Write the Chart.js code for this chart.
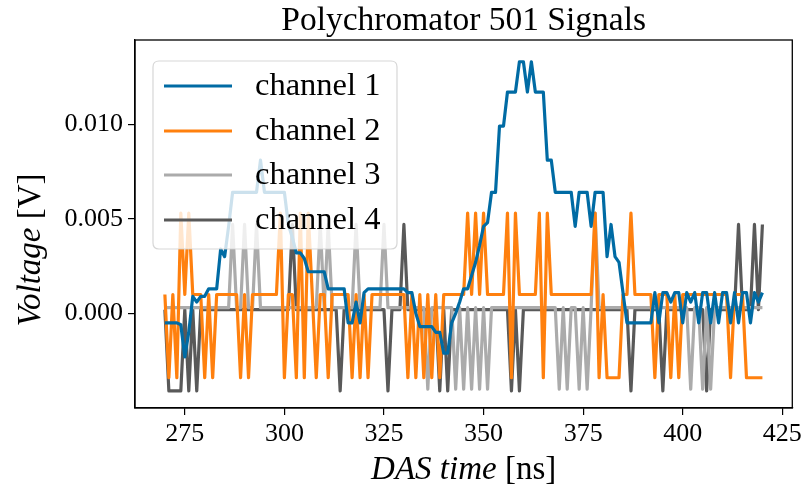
<!DOCTYPE html>
<html>
<head>
<meta charset="utf-8">
<script src="https://cdn.jsdelivr.net/npm/chart.js@4.4.1/dist/chart.umd.min.js"></script>
<style>
html,body{margin:0;padding:0;background:#ffffff;}
#wrap{width:806px;height:497px;position:relative;}
</style>
</head>
<body>
<div id="wrap"><canvas id="c" width="806" height="497"></canvas></div>
<script>
// ---- data ----
const chartTitle = "Polychromator 501 Signals";
const seriesNames = ["channel 1", "channel 2", "channel 3", "channel 4"];
const xTickValues = [275, 300, 325, 350, 375, 400, 425];
const yTickValues = [0.000, 0.005, 0.010];

const timeNs = [
270,271,272,273,274,275,276,277,278,279,280,281,282,283,284,285,286,287,288,289,
290,291,292,293,294,295,296,297,298,299,300,301,302,303,304,305,306,307,308,309,
310,311,312,313,314,315,316,317,318,319,320,321,322,323,324,325,326,327,328,329,
330,331,332,333,334,335,336,337,338,339,340,341,342,343,344,345,346,347,348,349,
350,351,352,353,354,355,356,357,358,359,360,361,362,363,364,365,366,367,368,369,
370,371,372,373,374,375,376,377,378,379,380,381,382,383,384,385,386,387,388,389,
390,391,392,393,394,395,396,397,398,399,400,401,402,403,404,405,406,407,408,409,
410,411,412,413,414,415,416,417,418,419,420];

const channel1 = [
-0.0005,-0.0005,-0.0005,-0.0005,-0.0006,-0.0023,-0.0010,0.0009,0.0006,0.0009,
0.0009,0.0013,0.0013,0.0013,0.0034,0.0030,0.0046,0.0064,0.0064,0.0064,
0.0064,0.0064,0.0064,0.0064,0.0081,0.0064,0.0064,0.0064,0.0064,0.0064,
0.0064,0.0047,0.0040,0.0032,0.0032,0.0029,0.0022,0.0022,0.0022,0.0022,
0.0022,0.0013,0.0013,0.0013,0.0013,0.0013,-0.0005,-0.0005,0.0006,-0.0005,
0.0011,0.0013,0.0013,0.0013,0.0013,0.0013,0.0013,0.0013,0.0013,0.0013,
0.0013,0.0011,0.0011,0.0000,-0.0007,-0.0007,-0.0007,-0.0007,-0.0010,-0.0010,
-0.0021,-0.0021,-0.0005,0.0000,0.0006,0.0013,0.0013,0.0020,0.0027,0.0036,
0.0046,0.0048,0.0064,0.0064,0.0099,0.0099,0.0117,0.0117,0.0117,0.0133,
0.0133,0.0117,0.0133,0.0117,0.0117,0.0117,0.0081,0.0081,0.0064,0.0064,
0.0064,0.0064,0.0064,0.0046,0.0064,0.0064,0.0064,0.0046,0.0064,0.0064,
0.0064,0.0030,0.0047,0.0030,0.0027,0.0011,-0.0005,-0.0005,-0.0005,-0.0005,
-0.0005,-0.0005,-0.0005,0.0011,-0.0005,0.0011,0.0011,0.0006,0.0011,0.0011,
-0.0005,0.0011,0.0006,0.0011,-0.0005,0.0011,0.0011,-0.0005,0.0011,-0.0005,
0.0011,0.0011,-0.0005,0.0011,-0.0005,0.0011,0.0011,-0.0005,0.0011,0.0006,
0.0011];

const channel2 = [
0.0010,-0.0034,0.0010,-0.0034,0.0053,0.0010,0.0053,0.0010,0.0010,0.0010,
-0.0034,0.0010,-0.0034,0.0010,0.0010,0.0010,0.0010,0.0010,0.0010,-0.0034,
0.0010,-0.0034,0.0010,0.0010,0.0010,0.0010,0.0010,0.0010,0.0010,0.0053,
-0.0034,0.0010,0.0010,-0.0034,0.0053,-0.0034,0.0053,0.0010,-0.0034,0.0010,
0.0010,-0.0034,0.0010,0.0010,0.0010,0.0010,0.0010,-0.0034,0.0010,-0.0034,
0.0010,-0.0034,0.0010,0.0010,0.0010,0.0010,0.0010,0.0010,0.0010,0.0010,
0.0010,-0.0034,0.0010,-0.0034,0.0010,-0.0034,0.0010,-0.0034,0.0010,-0.0034,
0.0010,0.0010,0.0010,0.0010,0.0010,0.0010,0.0053,0.0010,0.0053,0.0010,
0.0053,0.0010,0.0010,0.0010,0.0010,0.0010,0.0053,-0.0034,0.0053,0.0010,
0.0010,0.0010,0.0010,0.0010,0.0053,-0.0034,0.0053,0.0010,0.0010,0.0010,
0.0010,0.0010,0.0010,0.0010,0.0010,0.0010,0.0010,0.0010,0.0053,-0.0034,
0.0010,-0.0034,-0.0034,-0.0034,-0.0034,0.0010,0.0010,0.0053,0.0010,0.0010,
0.0010,0.0010,0.0010,-0.0034,0.0010,0.0010,0.0010,-0.0034,0.0010,-0.0034,
0.0010,0.0010,0.0010,0.0010,0.0010,0.0010,0.0010,0.0010,0.0010,0.0010,
0.0010,0.0010,-0.0034,0.0010,0.0010,0.0010,-0.0034,-0.0034,-0.0034,-0.0034,
-0.0034];

const channel3 = [
0.0003,0.0003,0.0003,0.0003,0.0003,0.0003,0.0003,0.0003,0.0003,0.0003,
0.0003,0.0003,0.0003,0.0003,0.0003,0.0003,0.0003,0.0047,0.0003,0.0003,
0.0047,0.0003,0.0003,0.0047,0.0003,0.0003,0.0003,0.0003,0.0003,0.0003,
0.0003,0.0003,0.0003,0.0003,0.0003,0.0003,0.0003,0.0003,0.0003,0.0047,
0.0003,0.0047,0.0003,0.0003,0.0003,0.0003,0.0003,0.0003,0.0047,0.0003,
0.0003,0.0003,0.0003,0.0003,0.0003,0.0047,0.0003,0.0003,0.0003,0.0003,
0.0003,0.0003,0.0003,0.0003,0.0003,0.0003,-0.0040,0.0003,0.0003,0.0003,
0.0003,0.0003,0.0003,-0.0040,0.0003,-0.0040,0.0003,-0.0040,0.0003,-0.0040,
0.0003,-0.0040,0.0003,0.0003,0.0003,0.0003,0.0003,0.0003,0.0003,0.0003,
0.0003,0.0003,0.0003,0.0003,0.0003,0.0003,0.0003,0.0003,0.0003,-0.0040,
0.0003,-0.0040,0.0003,0.0003,-0.0040,0.0003,-0.0040,0.0003,0.0053,0.0003,
0.0003,0.0003,0.0003,0.0003,0.0003,0.0003,0.0003,0.0003,0.0003,0.0003,
0.0003,0.0003,0.0003,0.0003,0.0003,0.0003,0.0003,0.0003,0.0003,0.0003,
0.0003,0.0003,-0.0040,0.0003,0.0003,-0.0040,0.0003,-0.0040,0.0003,0.0003,
0.0003,0.0003,0.0003,0.0003,0.0003,0.0003,0.0003,0.0003,0.0003,0.0003,
0.0003];

const channel4 = [
0.0002,-0.0041,-0.0041,-0.0041,-0.0041,0.0002,-0.0041,0.0002,-0.0041,0.0002,
0.0002,0.0002,0.0002,0.0002,0.0002,0.0002,0.0002,0.0002,0.0002,0.0002,
0.0002,0.0002,0.0002,0.0002,0.0002,0.0002,0.0002,0.0002,0.0002,0.0002,
0.0002,0.0002,0.0047,0.0002,0.0002,0.0002,0.0002,0.0002,0.0002,0.0002,
0.0002,0.0002,0.0002,0.0002,-0.0041,0.0002,0.0002,0.0002,0.0002,0.0002,
0.0002,0.0002,0.0002,0.0002,0.0002,0.0002,-0.0041,0.0002,0.0002,0.0002,
0.0047,0.0002,0.0002,0.0002,0.0002,0.0002,0.0002,0.0002,0.0002,-0.0041,
0.0002,-0.0041,0.0002,0.0002,0.0002,0.0002,0.0002,0.0002,0.0002,0.0002,
0.0002,0.0002,0.0002,0.0002,0.0002,0.0002,0.0002,-0.0041,0.0002,-0.0041,
0.0002,0.0002,0.0002,0.0002,0.0002,0.0002,0.0002,0.0002,0.0002,0.0002,
0.0002,0.0002,0.0002,0.0002,0.0002,0.0002,0.0002,0.0002,0.0002,0.0002,
0.0002,0.0002,0.0002,0.0002,0.0002,0.0002,0.0002,-0.0041,0.0002,0.0002,
0.0002,0.0002,0.0002,0.0002,0.0002,-0.0041,0.0002,0.0002,0.0002,0.0002,
0.0002,0.0002,0.0002,0.0002,0.0002,0.0002,-0.0041,0.0002,0.0002,0.0002,
0.0002,0.0002,0.0002,0.0002,0.0047,0.0002,0.0002,0.0002,0.0047,0.0002,
0.0047];

// ---- styles ----
const COLORS = ['#006BA4', '#FF800E', '#ABABAB', '#595959'];
const SERIF = '"Liberation Serif", "DejaVu Serif", serif';
const LINE_W = 3.2;

function pts(vals){ return timeNs.map((t, i) => ({x: t, y: vals[i]})); }
const allSeries = [channel1, channel2, channel3, channel4];

function drawMixed(ctx, parts, x, y, align){
  let total = 0;
  const widths = parts.map(p => { ctx.font = (p.italic ? 'italic ' : '') + p.size + 'px ' + SERIF; const w = ctx.measureText(p.text).width; total += w; return w; });
  let cx = align === 'center' ? x - total / 2 : x;
  parts.forEach((p, i) => {
    ctx.font = (p.italic ? 'italic ' : '') + p.size + 'px ' + SERIF;
    ctx.fillText(p.text, cx, y);
    cx += widths[i];
  });
}

const decorPlugin = {
  id: 'decor',
  afterDatasetsDraw(chart){
    const ctx = chart.ctx; const a = chart.chartArea;
    ctx.save();
    const lx = 153, ly = 61, lw = 244, lh = 188, r = 6;
    ctx.beginPath();
    ctx.moveTo(lx + r, ly); ctx.lineTo(lx + lw - r, ly); ctx.quadraticCurveTo(lx + lw, ly, lx + lw, ly + r);
    ctx.lineTo(lx + lw, ly + lh - r); ctx.quadraticCurveTo(lx + lw, ly + lh, lx + lw - r, ly + lh);
    ctx.lineTo(lx + r, ly + lh); ctx.quadraticCurveTo(lx, ly + lh, lx, ly + lh - r);
    ctx.lineTo(lx, ly + r); ctx.quadraticCurveTo(lx, ly, lx + r, ly); ctx.closePath();
    ctx.fillStyle = 'rgba(255,255,255,0.8)'; ctx.fill();
    ctx.strokeStyle = 'rgba(204,204,204,0.8)'; ctx.lineWidth = 1.2; ctx.stroke();
    const rows = [86, 131, 175, 220];
    seriesNames.forEach((name, i) => {
      ctx.beginPath(); ctx.moveTo(164, rows[i]); ctx.lineTo(232, rows[i]);
      ctx.strokeStyle = COLORS[i]; ctx.lineWidth = LINE_W; ctx.stroke();
      ctx.fillStyle = '#000'; ctx.font = '32.5px ' + SERIF; ctx.textBaseline = 'alphabetic'; ctx.textAlign = 'left';
      ctx.fillText(name, 255, rows[i] + 9);
    });
    ctx.strokeStyle = '#000'; ctx.lineWidth = 1.3;
    ctx.strokeRect(a.left, a.top, a.right - a.left, a.bottom - a.top);
    ctx.restore();
  },
  afterDraw(chart){
    const ctx = chart.ctx; const a = chart.chartArea;
    ctx.save();
    ctx.fillStyle = '#000'; ctx.textBaseline = 'alphabetic'; ctx.textAlign = 'left';
    drawMixed(ctx, [{text: chartTitle, italic: false, size: 33.5}], (a.left + a.right) / 2, 30, 'center');
    drawMixed(ctx, [{text: 'DAS time ', italic: true, size: 33}, {text: '[ns]', italic: false, size: 33}], (a.left + a.right) / 2, 479, 'center');
    ctx.translate(40, 250);
    ctx.rotate(-Math.PI / 2);
    drawMixed(ctx, [{text: 'Voltage ', italic: true, size: 33}, {text: '[V]', italic: false, size: 33}], 0, 0, 'center');
    ctx.restore();
  }
};

const tickFont = {family: SERIF, size: 26};

new Chart(document.getElementById('c').getContext('2d'), {
  type: 'line',
  data: {
    datasets: allSeries.map((vals, i) => ({
      label: seriesNames[i], data: pts(vals), borderColor: COLORS[i], backgroundColor: COLORS[i],
      borderWidth: LINE_W, pointRadius: 0, tension: 0, fill: false, borderJoinStyle: 'round', borderCapStyle: 'butt'
    }))
  },
  options: {
    responsive: false, animation: false, devicePixelRatio: 1,
    layout: {padding: {left: 0, right: 11, top: 40, bottom: 0}},
    plugins: {legend: {display: false}, title: {display: false}, tooltip: {enabled: false}},
    scales: {
      x: {
        type: 'linear', min: 262.5, max: 427.5,
        afterBuildTicks: s => { s.ticks = xTickValues.map(v => ({value: v})); },
        ticks: {color: '#000', font: tickFont, padding: 4, maxRotation: 0, autoSkip: false, callback: v => String(v)},
        grid: {display: true, drawOnChartArea: false, drawTicks: true, tickLength: 7, color: '#000', lineWidth: 1.2},
        border: {display: true, color: '#000', width: 1.3},
        afterFit: s => { s.height = 89; }
      },
      y: {
        type: 'linear', min: -0.0050, max: 0.01445,
        afterBuildTicks: s => { s.ticks = yTickValues.map(v => ({value: v})); },
        ticks: {color: '#000', font: tickFont, padding: 5, autoSkip: false, callback: v => Number(v).toFixed(3)},
        grid: {display: true, drawOnChartArea: false, drawTicks: true, tickLength: 7, color: '#000', lineWidth: 1.2},
        border: {display: true, color: '#000', width: 1.3},
        afterFit: s => { s.width = 135; }
      }
    }
  },
  plugins: [decorPlugin]
});
</script>
</body>
</html>
